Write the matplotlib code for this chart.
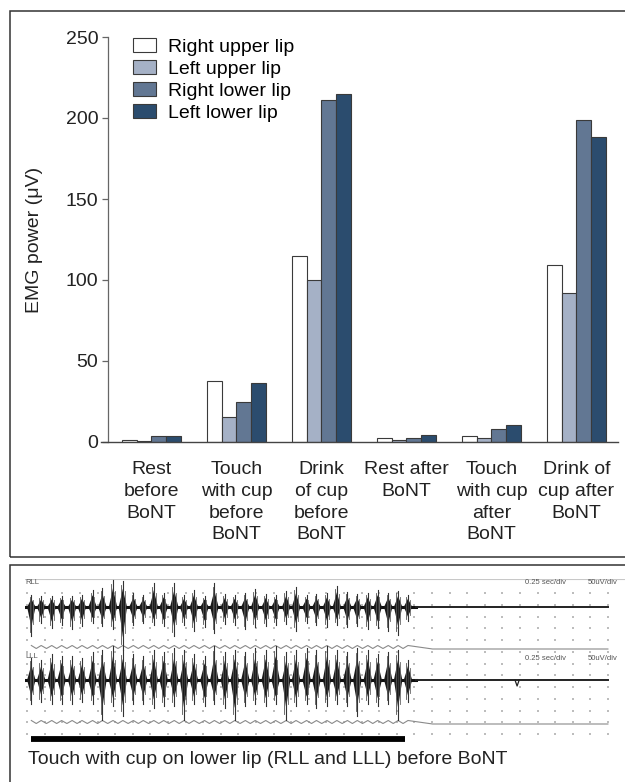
import numpy as np
import matplotlib
matplotlib.use("Agg")
import matplotlib.pyplot as plt
from matplotlib.patches import Rectangle, Patch

plt.rcParams['font.family'] = ['Liberation Sans', 'DejaVu Sans']

# ---------------- data: bar chart ----------------
categories = ["Rest\nbefore\nBoNT", "Touch\nwith cup\nbefore\nBoNT", "Drink\nof cup\nbefore\nBoNT",
              "Rest after\nBoNT", "Touch\nwith cup\nafter\nBoNT", "Drink of\ncup after\nBoNT"]
series_names = ["Right upper lip", "Left upper lip", "Right lower lip", "Left lower lip"]
right_upper = [1.5, 37.5, 115, 2.5, 3.5, 109]
left_upper = [0.5, 15.5, 100, 1.0, 2.5, 92]
right_lower = [3.5, 24.5, 211, 2.5, 8.0, 199]
left_lower = [3.5, 36.5, 215, 4.5, 10.5, 188]
yticks = [0, 50, 100, 150, 200, 250]
colors = ["#ffffff", "#a5b1c6", "#627793", "#2b4c6e"]

# ---------------- data: EMG traces (read from the recording) ----------------
burst_t = [0.09, 0.23, 0.38, 0.52, 0.67, 0.81, 0.96, 1.10, 1.25, 1.39, 1.54, 1.68, 1.83,
           1.97, 2.12, 2.26, 2.40, 2.55, 2.69, 2.84, 2.98, 3.13, 3.27, 3.42, 3.56, 3.71,
           3.85, 4.00, 4.14, 4.29, 4.43, 4.58, 4.72, 4.87, 5.01, 5.16, 5.30, 5.44]
rll_up = [48, 44, 44, 44, 44, 48, 68, 76, 108, 104, 56, 48, 96, 56, 96, 48, 68, 44, 96,
          52, 48, 56, 72, 52, 48, 64, 80, 48, 52, 56, 84, 60, 52, 56, 68, 56, 64, 48]
rll_down = [116, 64, 84, 72, 88, 76, 64, 76, 88, 172, 72, 64, 72, 76, 116, 72, 96, 80, 104,
            68, 72, 88, 80, 76, 72, 68, 96, 64, 72, 80, 72, 80, 76, 88, 84, 96, 112, 56]
lll_up = [88, 80, 104, 96, 96, 88, 112, 120, 136, 120, 104, 96, 120, 112, 128, 120, 104, 96,
          136, 112, 120, 112, 128, 120, 136, 112, 120, 128, 120, 136, 120, 112, 128, 120,
          104, 112, 120, 80]
lll_down = [96, 88, 96, 96, 96, 88, 96, 160, 104, 144, 96, 96, 112, 104, 104, 160, 96, 104,
            96, 112, 160, 104, 96, 104, 96, 160, 104, 96, 112, 104, 96, 104, 144, 96, 104,
            96, 160, 88]
trace_end = 8.28
stim_on, stim_off = 0.085, 5.40
lll_artifact = (6.99, 24)
ref_wave_amp = 6

fig = plt.figure(figsize=(6.25, 7.82), dpi=100)
W, H = 625.0, 782.0

# frames
fig.patches.append(Rectangle((9.5 / W, 1 - 557 / H), 1.1, (557 - 11) / H, transform=fig.transFigure,
                             fill=False, ec="#333333", lw=1.1, clip_on=False))
fig.patches.append(Rectangle((9.5 / W, -0.1), 1.1, 0.1 + (782 - 565) / H, transform=fig.transFigure,
                             fill=False, ec="#333333", lw=1.1, clip_on=False))

# ---------------- bar chart ----------------
ax = fig.add_axes([108 / W, 1 - 442 / H, 510 / W, 405 / H])
x = np.arange(len(categories))
w = 0.173
for j, vals in enumerate([right_upper, left_upper, right_lower, left_lower]):
    ax.bar(x + (j - 1.5) * w, vals, w, color=colors[j], edgecolor="#3a3a3a", lw=0.8,
           label=series_names[j], zorder=2)
ax.set_xlim(-0.51, 5.49)
ax.set_ylim(0, 250)
ax.set_yticks(yticks)
ax.set_xticks(x)
ax.set_xticklabels(categories, fontsize=14, color="#222222", linespacing=1.36)
ax.tick_params(axis='x', length=0, pad=14)
ax.tick_params(axis='y', length=4, width=0.9, color="#666666", labelsize=14, labelcolor="#222222", pad=3)
for s in ["top", "right", "bottom"]:
    ax.spines[s].set_visible(False)
ax.spines["left"].set_color("#666666")
ax.spines["left"].set_linewidth(0.9)
ax.axhline(0, xmin=-7 / 510, xmax=1, color="#444444", lw=1.0, clip_on=False, zorder=3)
fig.text(35 / W, 1 - 240 / H, "EMG power (μV)", rotation=90, ha="center", va="center",
         fontsize=14, color="#222222")
handles = [Patch(facecolor=colors[j], edgecolor="#3a3a3a", lw=0.8) for j in range(4)]
ax.legend(handles, series_names, loc="upper left", bbox_to_anchor=(133 / W, 1 - 38 / H),
          bbox_transform=fig.transFigure, frameon=False, fontsize=14, handlelength=1.19,
          handleheight=0.77, handletextpad=0.6, labelspacing=0.2, borderpad=0, borderaxespad=0)

# ---------------- EMG traces ----------------
ax2 = fig.add_axes([25 / W, 1 - 745 / H, 600 / W, 166 / H])
ax2.set_xlim(0, 600 / 70.4)
ax2.set_ylim(-664, 0)
ax2.axis("off")
ax2.axhline(0, color="#c8c8c8", lw=0.8)

# dotted grid lattice
gx = np.arange(0.03, 8.4, 0.25)
gy = np.arange(-56, -640, -47)
GX, GY = np.meshgrid(gx, gy)
ax2.scatter(GX.ravel(), GY.ravel(), s=1.2, c="#bdbdbd", marker="s", lw=0, zorder=1)

def draw_channel(base, ups, downs, wave_base, artifact=None):
    t = np.array(burst_t)
    ups = np.array(ups); downs = np.array(downs)
    ax2.plot([t[0] - 0.07, t[-1] + 0.12], [base, base], color="#111111", lw=2.2, zorder=3)
    ax2.plot([t[-1] + 0.12, trace_end], [base, base], color="#222222", lw=1.4, zorder=3)
    dw = 0.06
    for ti, u, d in zip(t, ups, downs):
        ax2.fill([ti - dw, ti - dw / 3, ti, ti + dw / 3, ti + dw, ti + dw / 3, ti, ti - dw / 3],
                 [base, base + 0.45 * u, base + 0.7 * u, base + 0.45 * u, base,
                  base - 0.45 * d, base - 0.7 * d, base - 0.45 * d],
                 color="#1a1a1a", lw=0, zorder=3)
        ax2.plot([ti, ti], [base - d, base + u], color="#333333", lw=0.8, zorder=3)
        ax2.plot([ti - 0.025, ti - 0.025], [base - 0.85 * d, base + 0.85 * u], color="#555555", lw=0.6, zorder=3)
        ax2.plot([ti + 0.025, ti + 0.025], [base - 0.6 * d, base + 0.6 * u], color="#666666", lw=0.6, zorder=3)
    if artifact is not None:
        at, depth = artifact
        ax2.plot([at - 0.03, at, at + 0.03], [base, base - depth, base], color="#222222", lw=0.9, zorder=3)
    # reference wave (peaks at bursts, troughs between)
    wx, wy = [], []
    for k, ti in enumerate(t):
        wx.append(ti); wy.append(wave_base + ref_wave_amp)
        if k < len(t) - 1:
            wx.append((ti + t[k + 1]) / 2); wy.append(wave_base - ref_wave_amp)
    wx += [t[-1] + 0.35, trace_end]
    wy += [wave_base - 8, wave_base - 8]
    ax2.plot(wx, wy, color="#8a8a8a", lw=0.8, zorder=2)

draw_channel(-112, rll_up, rll_down, -272)
draw_channel(-404, lll_up, lll_down, -572, artifact=lll_artifact)
ax2.plot([stim_on, stim_off], [-640, -640], color="black", lw=4.2, solid_capstyle="butt")

for ylab, name in [(582, "RLL"), (657, "LLL")]:
    fig.text(25 / W, 1 - ylab / H, name, fontsize=5.5, color="#555555", va="center", ha="left")
    fig.text(525 / W, 1 - (ylab + 1) / H, "0.25 sec/div", fontsize=5.5, color="#555555", va="center", ha="left")
    fig.text(588 / W, 1 - (ylab + 1) / H, "50uV/div", fontsize=5.5, color="#555555", va="center", ha="left")

fig.text(28 / W, 1 - 760 / H, "Touch with cup on lower lip (RLL and LLL) before BoNT", fontsize=14,
         color="#222222", va="center", ha="left")

fig.savefig("out.png", dpi=100)
